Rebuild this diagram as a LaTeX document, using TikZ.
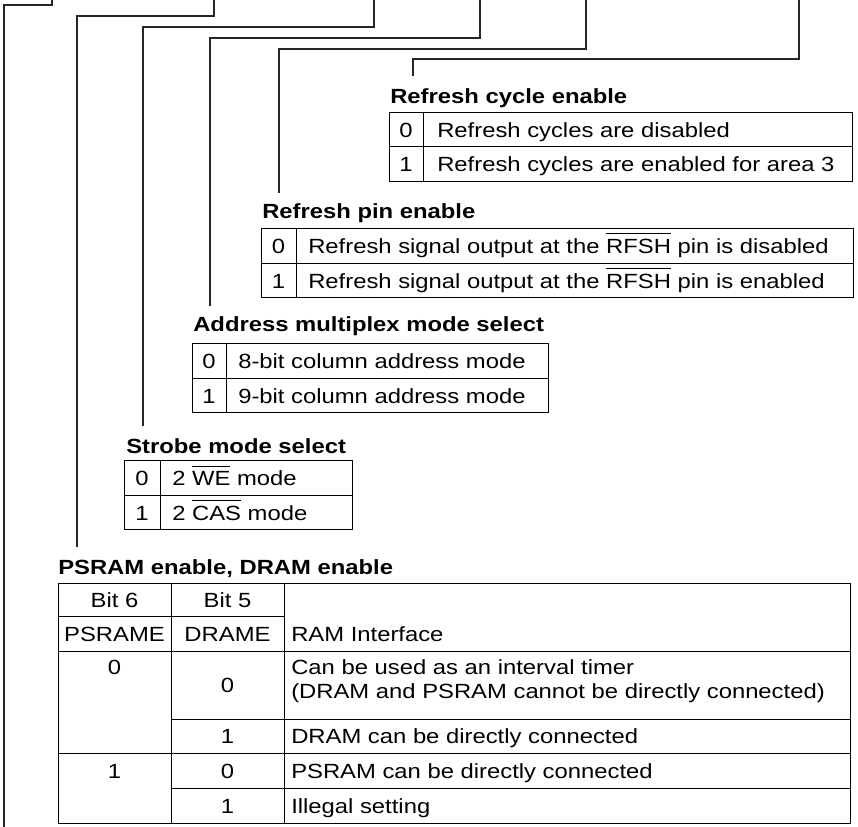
\documentclass[tikz,border=0pt]{standalone}
\usepackage{fontspec}
\setmainfont{Liberation Sans}[FakeStretch=1.16]
\newsavebox\ovlbox
\newcommand{\ovl}[1]{\sbox\ovlbox{#1}\rlap{\rule[\dimexpr\ht\ovlbox+4pt\relax]{\wd\ovlbox}{0.7pt}}\usebox\ovlbox}
\begin{document}
\begin{tikzpicture}[
  x=0.75pt,y=-0.75pt,
  leader/.style={line width=0.8pt,draw=black!85},
  grid/.style={line width=0.75pt},
  title/.style={anchor=base west,inner sep=0pt,font=\fontsize{15.4}{18}\selectfont\bfseries},
  entry/.style={anchor=base west,inner sep=0pt,font=\fontsize{15.4}{18}\selectfont},
  bitval/.style={anchor=base,inner sep=0pt,font=\fontsize{15.4}{18}\selectfont}]
  \useasboundingbox (0,0) rectangle (858,827);
  % leaders from the register bits
  \coordinate (Pa) at (52,0);  \coordinate (Ka) at (4,5);    \coordinate (Ea) at (4,827);
  \coordinate (Pb) at (214,0); \coordinate (Kb) at (77,16);  \coordinate (Eb) at (77,547);
  \coordinate (Pc) at (374,0); \coordinate (Kc) at (143,27); \coordinate (Ec) at (143,426);
  \coordinate (Pd) at (480,0); \coordinate (Kd) at (210,38); \coordinate (Ed) at (210,306);
  \coordinate (Pe) at (586,0); \coordinate (Ke) at (279,49); \coordinate (Ee) at (279,193);
  \coordinate (Pf) at (799,0); \coordinate (Kf) at (413,59); \coordinate (Ef) at (413,76);
  \draw[leader] (Pa) |- (Ka) -- (Ea);
  \draw[leader] (Pb) |- (Kb) -- (Eb);
  \draw[leader] (Pc) |- (Kc) -- (Ec);
  \draw[leader] (Pd) |- (Kd) -- (Ed);
  \draw[leader] (Pe) |- (Ke) -- (Ee);
  \draw[leader] (Pf) |- (Kf) -- (Ef);

  % refresh cycle enable
  \node[title] (cyc) at (390,104) {Refresh cycle enable};
  \draw[grid] (389,113) rectangle (852,182) (389,147) -- (852,147) (423,113) -- (423,182);
  \node[bitval] (cyc0) at (406,137.5) {0};
  \node[entry] (cyc0t) at (437,137.5) {Refresh cycles are disabled};
  \node[bitval] (cyc1) at (406,172) {1};
  \node[entry] (cyc1t) at (437,172) {Refresh cycles are enabled for area 3};

  % refresh pin enable
  \node[title] (pin) at (262,219) {Refresh pin enable};
  \draw[grid] (261,229) rectangle (853,298) (261,264) -- (853,264) (296,229) -- (296,298);
  \node[bitval] (pin0) at (278.5,254) {0};
  \node[entry] (pin0t) at (308,254) {Refresh signal output at the \ovl{RFSH} pin is disabled};
  \node[bitval] (pin1) at (278.5,288.5) {1};
  \node[entry] (pin1t) at (308,288.5) {Refresh signal output at the \ovl{RFSH} pin is enabled};

  % address multiplex mode select
  \node[title] (mux) at (193,332) {Address multiplex mode select};
  \draw[grid] (192,344) rectangle (548,413) (192,379) -- (548,379) (226,344) -- (226,413);
  \node[bitval] (mux0) at (209,369) {0};
  \node[entry] (mux0t) at (238,369) {8-bit column address mode};
  \node[bitval] (mux1) at (209,403.5) {1};
  \node[entry] (mux1t) at (238,403.5) {9-bit column address mode};

  % strobe mode select
  \node[title] (stb) at (126,454) {Strobe mode select};
  \draw[grid] (124,461) rectangle (352,530) (124,496) -- (352,496) (160,461) -- (160,530);
  \node[bitval] (stb0) at (142,486) {0};
  \node[entry] (stb0t) at (172,486) {2 \ovl{WE} mode};
  \node[bitval] (stb1) at (142,520.5) {1};
  \node[entry] (stb1t) at (172,520.5) {2 \ovl{CAS} mode};

  % PSRAM enable, DRAM enable
  \node[title] (ram) at (58,575) {PSRAM enable, DRAM enable};
  \draw[grid] (58,584) rectangle (850,823);
  \draw[grid] (58,617) -- (284,617) (58,651) -- (850,651) (58,753) -- (850,753);
  \draw[grid] (171,719) -- (850,719) (171,788) -- (850,788);
  \draw[grid] (171,584) -- (171,823) (284,584) -- (284,823);
  \node[bitval] (ramB6) at (114.5,608) {Bit 6};
  \node[bitval] (ramB5) at (227.5,608) {Bit 5};
  \node[bitval] (ramPS) at (114.5,641.5) {PSRAME};
  \node[bitval] (ramDR) at (227.5,641.5) {DRAME};
  \node[entry] (ramIF) at (291,641.5) {RAM Interface};
  \node[bitval] (ram0) at (114.5,674) {0};
  \node[bitval] (ram00) at (227.5,692.5) {0};
  \node[entry] (ram00a) at (291,674) {Can be used as an interval timer};
  \node[entry] (ram00b) at (291,698) {(DRAM and PSRAM cannot be directly connected)};
  \node[bitval] (ram01) at (227.5,743.5) {1};
  \node[entry] (ram01t) at (291,743.5) {DRAM can be directly connected};
  \node[bitval] (ram1) at (114.5,778) {1};
  \node[bitval] (ram10) at (227.5,778) {0};
  \node[entry] (ram10t) at (291,778) {PSRAM can be directly connected};
  \node[bitval] (ram11) at (227.5,813) {1};
  \node[entry] (ram11t) at (291,813) {Illegal setting};
\end{tikzpicture}
\end{document}
